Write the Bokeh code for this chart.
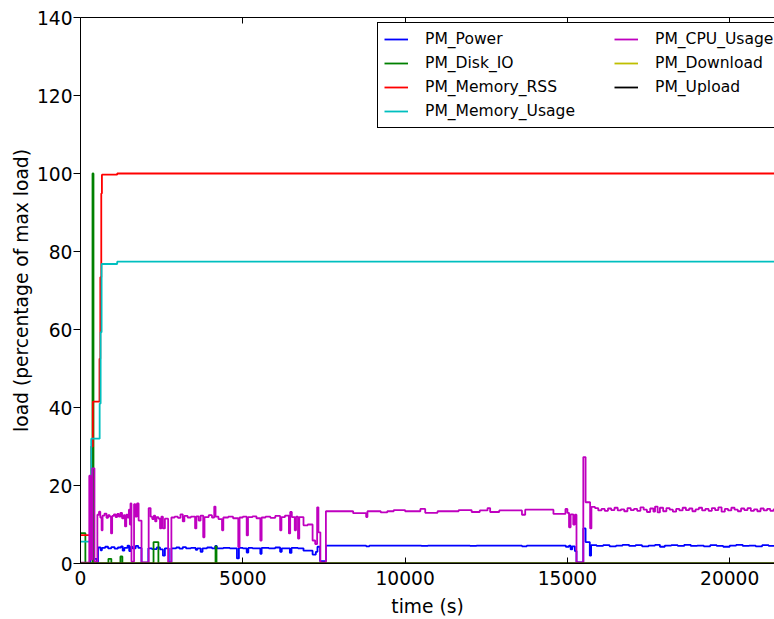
from bokeh.plotting import figure
from bokeh.models import Range1d, LinearAxis, Legend, LegendItem, FixedTicker, CustomJSTickFormatter
from bokeh.embed import file_html
from bokeh.resources import INLINE

# ---------------- data (time in s, load in % of max) ----------------
power_t = [0, 300, 500, 540, 620, 660, 760, 850, 950, 1050, 1150, 1250, 1300, 1350, 1450, 1500, 1550,
           1600, 1700, 1780, 1880, 2090, 2200, 2350, 2450, 2540, 2600, 2720, 2800, 2950, 3050, 3150,
           3250, 3400, 3550, 3600, 3700, 3760, 3900, 4050, 4150, 4200, 4400, 4600, 4820, 4880, 5000,
           5120, 5170, 5300, 5540, 5580, 5800, 6000, 6150, 6200, 6450, 6500, 6700, 6870, 7150, 7250,
           7300, 7380, 7560, 8800, 8900, 10500, 10700, 12000, 12200, 13600, 13750, 14950, 15050,
           15100, 15150, 15230, 15280, 15490, 15560, 15690, 15730, 15900, 16100, 16300, 16500, 16700,
           16900, 17100, 17300, 17500, 17700, 17850, 18000, 18200, 18400, 18600, 18800, 19000, 19200,
           19400, 19600, 19800, 20000, 20200, 20400, 20600, 20800, 21000, 21200, 21500]
power_v = [0.0, 1.2, 0.3, 4.1, 3.4, 4.0, 4.3, 3.9, 4.2, 3.8, 4.1, 4.4, 3.3, 4.0, 4.6, 3.2, 4.3,
           3.9, 4.5, 4.0, 0.2, 3.9, 3.7, 4.1, 3.6, 2.0, 3.9, 0.3, 3.9, 4.1, 3.8, 4.2,
           3.9, 4.0, 3.5, 3.9, 3.0, 3.9, 4.1, 3.9, 4.5, 3.9, 4.0, 3.9, 1.3, 4.0, 3.9,
           2.8, 4.0, 3.9, 2.5, 4.0, 3.9, 4.1, 3.0, 3.9, 2.7, 4.0, 3.9, 3.3, 2.3, 3.0,
           4.3, 0.6, 4.6, 4.4, 4.6, 4.5, 4.6, 4.5, 4.6, 4.4, 4.6, 4.3, 4.6,
           3.6, 4.4, 3.2, 0.3, 9.0, 5.5, 2.0, 4.7, 4.5, 4.7, 4.4, 4.6, 4.8,
           4.5, 4.7, 4.4, 4.6, 4.8, 4.3, 4.6, 4.7, 4.5, 4.8, 4.5, 4.6, 4.4,
           4.7, 4.5, 4.3, 4.6, 4.8, 4.5, 4.6, 4.4, 4.7, 4.5, 4.6]

disk_t = [0, 150, 370, 400, 860, 950, 1230, 1290, 2250, 2400, 4160, 4190, 21500]
disk_v = [7.8, 0.0, 100.0, 0.0, 1.2, 0.0, 1.8, 0.0, 5.5, 0.0, 4.4, 0.0, 0.0]

rss_t = [0, 330, 380, 585, 610, 640, 660, 1130, 21500]
rss_v = [7.3, 30.0, 41.5, 52.5, 73.4, 94.9, 99.7, 100.0, 100.0]

mem_t = [0, 330, 590, 620, 650, 1130, 21500]
mem_v = [5.6, 32.0, 41.0, 59.3, 76.8, 77.4, 77.4]

cpu_t = [0, 270, 310, 360, 430, 520, 570, 610, 650, 680, 740, 800, 850, 900, 940, 975, 1030,
         1080, 1130, 1180, 1230, 1280, 1330, 1370, 1410, 1450, 1490, 1520, 1540, 1570, 1650, 1690,
         1740, 1790, 1880, 2100, 2160, 2210, 2260, 2300, 2340, 2400, 2450, 2490, 2540, 2600, 2700,
         2800, 2900, 3000, 3080, 3150, 3200, 3300, 3400, 3530, 3570, 3640, 3700, 3780, 3820, 3950,
         4050, 4120, 4160, 4250, 4360, 4400, 4550, 4700, 4860, 4900, 5000, 5120, 5160, 5300, 5420,
         5540, 5580, 5700, 5850, 6000, 6150, 6190, 6300, 6420, 6460, 6510, 6600, 6640, 6700, 6740,
         6870, 7000, 7150, 7230, 7290, 7330, 7390, 7560, 8400, 8800, 8840, 9250, 9450, 9650, 10000,
         10470, 10620, 11000, 11650, 12050, 12300, 12540, 12620, 12900, 13600, 13700, 14570, 14940,
         15000, 15050, 15100, 15180, 15230, 15280, 15490, 15560, 15700, 15740, 15850, 15950, 16050,
         16150, 16250, 16350, 16450, 16550, 16650, 16750, 16850, 16950, 17050, 17150, 17250, 17350,
         17450, 17550, 17650, 17700, 17780, 17850, 17950, 18050, 18150, 18250, 18350, 18450, 18550,
         18650, 18750, 18850, 18950, 19050, 19150, 19250, 19350, 19450, 19550, 19650, 19750, 19850,
         19950, 20050, 20150, 20250, 20350, 20450, 20550, 20650, 20750, 20850, 20950, 21050, 21150,
         21250, 21350, 21500]
cpu_v = [0.2, 22.5, 1.0, 24.4, 0.5, 12.5, 13.3, 11.8, 8.5, 12.3, 12.8, 11.7, 12.4, 12.0, 7.7, 12.2, 12.6,
         11.9, 12.7, 12.0, 13.0, 11.6, 12.4, 9.5, 12.5, 11.8, 13.8, 10.0, 15.4, 0.5, 15.2, 12.0,
         15.4, 11.0, 0.3, 14.2, 12.0, 11.4, 12.3, 10.8, 11.9, 11.5, 9.0, 12.0, 9.0, 11.5, 0.3,
         11.8, 12.0, 11.7, 12.6, 10.8, 12.2, 11.8, 12.0, 9.0, 12.1, 11.0, 12.3, 6.7, 11.9, 12.4,
         11.8, 14.6, 12.0, 11.4, 8.5, 11.8, 12.0, 11.6, 4.2, 11.8, 12.0, 7.2, 11.9, 12.1, 11.6,
         5.9, 11.8, 12.0, 11.7, 12.2, 8.5, 11.9, 12.3, 7.7, 13.2, 11.9, 8.5, 12.0, 6.4, 11.9,
         9.8, 10.0, 5.9, 5.0, 14.4, 8.0, 0.3, 13.4, 12.9, 11.9, 13.4, 13.1, 13.4, 13.7, 13.4,
         14.0, 13.0, 13.4, 13.7, 13.2, 13.6, 14.2, 13.2, 13.6, 12.5, 13.8, 12.7, 14.0,
         13.0, 9.3, 12.6, 10.0, 12.5, 0.3, 27.3, 15.7, 9.0, 14.5, 14.2, 13.6, 14.0,
         13.5, 14.1, 13.7, 14.3, 13.6, 13.9, 13.4, 14.2, 13.7, 14.0, 13.5, 14.4, 13.8,
         13.2, 14.1, 13.3, 14.6, 13.1, 14.3, 13.4, 14.2, 13.8, 13.3, 14.0, 13.6, 14.3,
         13.7, 14.1, 13.4, 13.9, 14.3, 13.6, 14.0, 13.5, 14.2, 13.7, 14.4, 13.3, 14.0,
         13.6, 14.3, 13.8, 13.4, 14.1, 13.7, 14.2, 13.5, 13.9, 13.4, 14.1, 13.6, 14.0,
         13.5, 13.9, 13.6]

download_t = [0, 21500]
download_v = [0.0, 0.0]
upload_t = [0, 21500]
upload_v = [0.0, 0.0]

x_ticks = [0, 5000, 10000, 15000, 20000]
y_ticks = [0, 20, 40, 60, 80, 100, 120, 140]

series = [
    ("PM_Power", power_t, power_v, "#0000ff"),
    ("PM_Disk_IO", disk_t, disk_v, "#008000"),
    ("PM_Memory_RSS", rss_t, rss_v, "#ff0000"),
    ("PM_Memory_Usage", mem_t, mem_v, "#00bfbf"),
    ("PM_CPU_Usage", cpu_t, cpu_v, "#bf00bf"),
    ("PM_Download", download_t, download_v, "#bfbf00"),
    ("PM_Upload", upload_t, upload_v, "#000000"),
]

FONT = "DejaVu Sans"
TICK_SIZE = "18.67px"

p = figure(width=774, height=619, output_backend="svg", toolbar_location=None,
           x_range=Range1d(0, 21380), y_range=Range1d(0, 140),
           x_axis_label="time (s)", y_axis_label="load (percentage of max load)",
           min_border_left=80, min_border_right=0, min_border_top=17, min_border_bottom=56)
p.outline_line_color = None
p.grid.visible = False
p.background_fill_color = "white"
p.border_fill_color = "white"

for ax in (p.xaxis[0], p.yaxis[0]):
    ax.axis_line_color = "black"
    ax.axis_line_width = 1
    ax.major_tick_line_color = "black"
    ax.minor_tick_line_color = None
    ax.major_label_text_font = FONT
    ax.major_label_text_font_size = TICK_SIZE
    ax.major_label_text_color = "black"
    ax.axis_label_text_font = FONT
    ax.axis_label_text_font_size = TICK_SIZE
    ax.axis_label_text_font_style = "normal"
    ax.axis_label_text_color = "black"

p.xaxis[0].ticker = FixedTicker(ticks=x_ticks)
p.xaxis[0].major_tick_in = 6
p.xaxis[0].major_tick_out = 0
p.xaxis[0].major_label_standoff = 7
p.xaxis[0].axis_label_standoff = 8

p.yaxis[0].ticker = FixedTicker(ticks=y_ticks)
p.yaxis[0].major_tick_in = 0
p.yaxis[0].major_tick_out = 7
p.yaxis[0].major_label_standoff = 1
p.yaxis[0].axis_label_standoff = 2

top_axis = LinearAxis(ticker=FixedTicker(ticks=x_ticks),
                      formatter=CustomJSTickFormatter(code="return ''"))
top_axis.major_tick_in = 6
top_axis.major_tick_out = 0
top_axis.minor_tick_line_color = None
top_axis.major_label_standoff = 0
top_axis.axis_line_color = "black"
top_axis.major_tick_line_color = "black"
p.add_layout(top_axis, "above")

items = []
for name, t, v, col in series:
    r = p.step(t, v, mode="after", line_color=col, line_width=1.8)
    items.append(LegendItem(label=name, renderers=[r]))

legend = Legend(items=items, ncols=2, location=(297, 435))
legend.label_text_font = FONT
legend.label_text_font_size = "15.55px"
legend.label_text_color = "black"
legend.border_line_color = "black"
legend.border_line_alpha = 1
legend.border_line_width = 1
legend.background_fill_alpha = 1
legend.padding = 6
legend.margin = 0
legend.spacing = 4
legend.glyph_width = 24
legend.glyph_height = 20
legend.label_height = 20
legend.label_standoff = 17
legend.label_width = 185
p.add_layout(legend)

open("out.html", "w").write(file_html(p, INLINE))
